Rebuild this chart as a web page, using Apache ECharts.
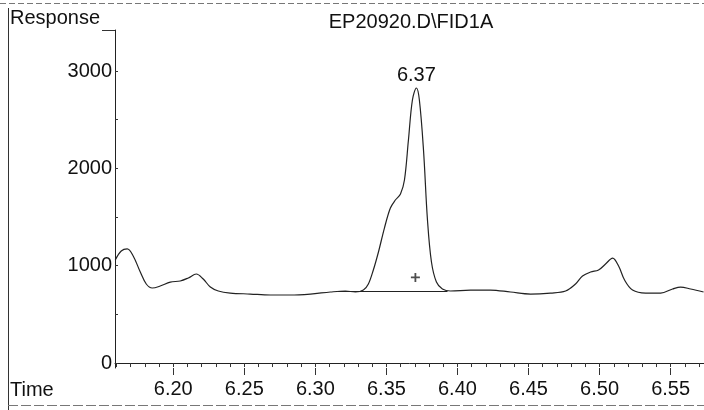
<!DOCTYPE html>
<html><head><meta charset="utf-8">
<script src="https://cdn.jsdelivr.net/npm/echarts@6/dist/echarts.min.js"></script>
<style>html,body{margin:0;padding:0;background:#fff}#c{width:704px;height:410px}</style>
</head><body><div id="c"></div>
<script>
const titleText = 'EP20920.D\\FID1A';
const yAxisName = 'Response';
const xAxisName = 'Time';
const peakLabel = '6.37';
const xTickLabels = [6.20, 6.25, 6.30, 6.35, 6.40, 6.45, 6.50, 6.55];
const xMinorTicks = [6.16,6.17,6.18,6.19,6.20,6.21,6.22,6.23,6.24,6.25,6.26,6.27,6.28,6.29,6.30,6.31,6.32,6.33,6.34,6.35,6.36,6.37,6.38,6.39,6.40,6.41,6.42,6.43,6.44,6.45,6.46,6.47,6.48,6.49,6.50,6.51,6.52,6.53,6.54,6.55,6.56,6.57];
const yTickLabels = [0, 1000, 2000, 3000];
const yMinorTicks = [0, 500, 1000, 1500, 2000, 2500, 3000];
const times = [6.1592,6.1634,6.1676,6.1718,6.1768,6.181,6.1852,6.1908,6.1979,6.2049,6.2106,6.2162,6.2211,6.2261,6.2317,6.2401,6.2542,6.2683,6.2824,6.2965,6.3106,6.3211,6.3282,6.3338,6.3373,6.3408,6.3444,6.3486,6.3528,6.3563,6.3599,6.3627,6.3655,6.3683,6.3711,6.3732,6.3761,6.3789,6.3817,6.3852,6.3894,6.3951,6.4092,6.4232,6.4373,6.4514,6.4655,6.4761,6.4831,6.488,6.4937,6.4993,6.5042,6.5092,6.5134,6.5176,6.5232,6.5324,6.543,6.5514,6.557,6.5641,6.5732];
const response = [1059,1151,1172,1100,935,812,771,791,832,843,874,915,863,781,740,719,709,699,699,709,730,740,730,750,812,956,1141,1387,1593,1675,1737,1881,2292,2703,2826,2703,2189,1470,1038,832,761,740,750,750,730,709,719,740,812,894,935,956,1017,1079,997,853,750,719,719,761,781,761,730];
const baselineStart = [6.316, 740];
const baselineEnd = [6.393, 740];
const crossMark = [6.3704, 880];

const chart = echarts.init(document.getElementById('c'));
const font = 'Liberation Sans, Arial, sans-serif';
const fs = 20;
chart.setOption({
  animation: false,
  backgroundColor: '#fff',
  title: {text: titleText, left: 406, top: 7, textAlign: 'center',
    textStyle: {fontFamily: font, fontSize: fs, fontWeight: 'normal', color: '#111'}},
  grid: {left: 115, right: 0, top: 30, bottom: 42},
  xAxis: [{
    type: 'value', min: 6.159, max: 6.5735,
    axisLine: {lineStyle: {color: '#222', width: 1}},
    axisTick: {show: true, length: 4, customValues: xMinorTicks, lineStyle: {color: '#333'}},
    axisLabel: {customValues: xTickLabels, formatter: v => v.toFixed(2), margin: 11,
      fontFamily: font, fontSize: fs, color: '#111'},
    splitLine: {show: false}
  },{
    type: 'value', min: 6.159, max: 6.5735, position: 'bottom',
    axisLine: {show: false},
    axisTick: {show: true, length: 7, customValues: xTickLabels, lineStyle: {color: '#333'}},
    axisLabel: {show: false}, splitLine: {show: false}
  }],
  yAxis: {
    type: 'value', min: -51, max: 3422,
    axisLine: {show: true, lineStyle: {color: '#222', width: 1}},
    axisTick: {show: true, inside: true, length: 3, customValues: yMinorTicks, lineStyle: {color: '#333'}},
    axisLabel: {customValues: yTickLabels, formatter: v => String(v), margin: 3,
      fontFamily: font, fontSize: fs, color: '#111'},
    splitLine: {show: false}
  },
  series: [{
    type: 'line', data: times.map((t, i) => [t, response[i]]),
    smooth: 0.35, showSymbol: false, clip: false,
    lineStyle: {color: '#222', width: 1.2},
    markPoint: {
      symbol: 'circle', symbolSize: 0,
      data: [{type: 'max', label: {show: true, position: 'top', distance: 3,
        formatter: () => peakLabel, fontFamily: font, fontSize: fs, color: '#111'}}]
    },
    markLine: {
      symbol: 'none', silent: true,
      lineStyle: {color: '#222', width: 1, type: 'solid'},
      label: {show: false},
      data: [[{coord: baselineStart}, {coord: baselineEnd}]]
    }
  },{
    type: 'scatter', data: [crossMark], symbol: 'path://M4,0L6,0L6,4L10,4L10,6L6,6L6,10L4,10L4,6L0,6L0,4L4,4Z',
    symbolSize: 9, itemStyle: {color: '#222'}
  }],
  graphic: [
    {type: 'text', left: 10, top: 8, style: {text: yAxisName, fontFamily: font, fontSize: fs, fill: '#111'}},
    {type: 'text', left: 10, top: 380, style: {text: xAxisName, fontFamily: font, fontSize: fs, fill: '#111'}},
    {type: 'line', shape: {x1: 8.5, y1: 8, x2: 8.5, y2: 410}, style: {stroke: '#333', lineWidth: 1}},
    {type: 'line', shape: {x1: 0, y1: 3.5, x2: 704, y2: 3.5}, style: {stroke: '#777', lineWidth: 1, lineDash: [6, 3]}},
    {type: 'line', shape: {x1: 8, y1: 405.5, x2: 704, y2: 405.5}, style: {stroke: '#777', lineWidth: 1, lineDash: [10, 3]}},
    {type: 'line', shape: {x1: 102, y1: 30.5, x2: 115, y2: 30.5}, style: {stroke: '#333', lineWidth: 1}}
  ]
});
</script></body></html>
